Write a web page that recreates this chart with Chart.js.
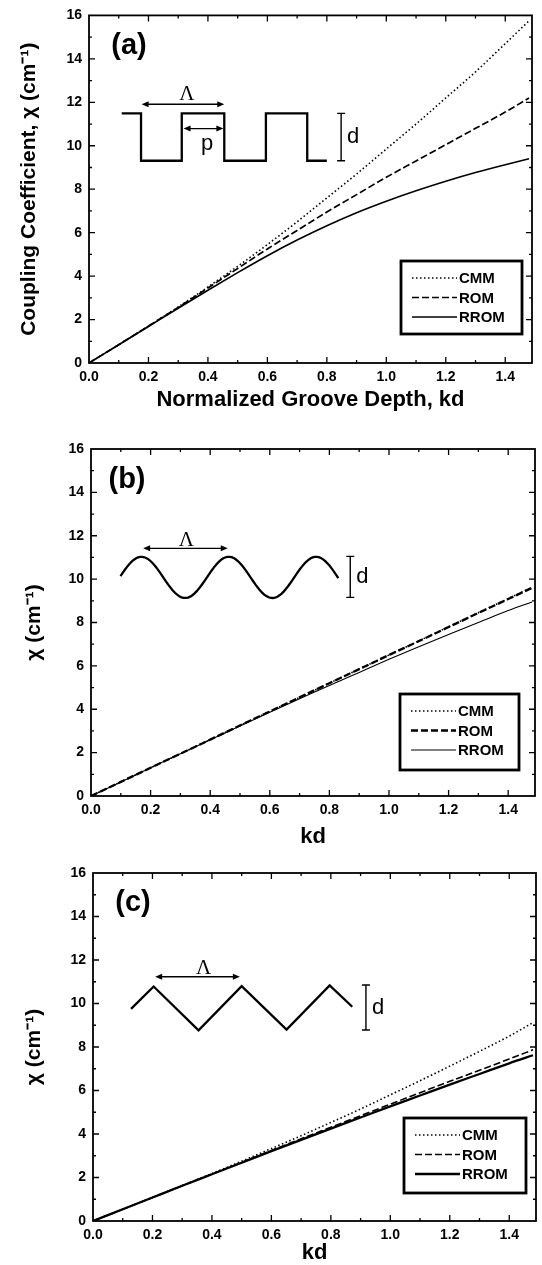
<!DOCTYPE html>
<html lang="en">
<head>
<meta charset="UTF-8" />
<title>Coupling coefficient vs. normalized groove depth</title>
<script src="https://cdn.jsdelivr.net/npm/chart.js"></script>
<style>
  body { margin: 0; background: #fff; width: 542px; height: 1265px; overflow: hidden; }
  .panel { position: absolute; left: 0; width: 542px; }
  canvas { display: block; }
</style>
</head>
<body>
<div class="panel" style="top:0"><canvas id="chartA" width="542" height="412"></canvas></div>
<div class="panel" style="top:412px"><canvas id="chartB" width="542" height="440"></canvas></div>
<div class="panel" style="top:852px"><canvas id="chartC" width="542" height="413"></canvas></div>

<script>
  // normalized groove depth kd (x values)
  const kd = [0, 0.1, 0.2, 0.3, 0.4, 0.5, 0.6, 0.7, 0.8, 0.9, 1.0, 1.1, 1.2, 1.3, 1.4, 1.48];

  // (a) rectangular grating
  const cmmA  = [0, 0.84, 1.70, 2.58, 3.50, 4.45, 5.45, 6.50, 7.60, 8.70, 9.85, 11.0, 12.2, 13.4, 14.7, 15.75];
  const romA  = [0, 0.84, 1.70, 2.56, 3.45, 4.35, 5.25, 6.10, 6.95, 7.75, 8.55, 9.30, 10.05, 10.8, 11.55, 12.2];
  const rromA = [0, 0.84, 1.68, 2.52, 3.35, 4.16, 4.94, 5.66, 6.32, 6.92, 7.45, 7.93, 8.37, 8.77, 9.13, 9.40];

  // (b) sinusoidal grating
  const cmmB  = [0, 0.65, 1.30, 1.95, 2.60, 3.25, 3.90, 4.55, 5.20, 5.85, 6.50, 7.15, 7.80, 8.45, 9.10, 9.62];
  const romB  = [0, 0.65, 1.30, 1.95, 2.60, 3.25, 3.90, 4.55, 5.20, 5.85, 6.50, 7.14, 7.79, 8.44, 9.08, 9.60];
  const rromB = [0, 0.65, 1.30, 1.95, 2.59, 3.23, 3.86, 4.48, 5.10, 5.70, 6.30, 6.88, 7.45, 8.00, 8.55, 8.95];

  // (c) triangular grating
  const cmmC  = [0, 0.54, 1.08, 1.63, 2.18, 2.75, 3.33, 3.92, 4.53, 5.15, 5.80, 6.45, 7.12, 7.80, 8.50, 9.12];
  const romC  = [0, 0.54, 1.08, 1.62, 2.16, 2.70, 3.24, 3.78, 4.31, 4.84, 5.37, 5.90, 6.42, 6.93, 7.45, 7.87];
  const rromC = [0, 0.54, 1.08, 1.62, 2.15, 2.68, 3.21, 3.73, 4.25, 4.76, 5.27, 5.77, 6.27, 6.76, 7.25, 7.62];

  const seriesNames = ["CMM", "ROM", "RROM"];
  const xTicks = [0, 0.2, 0.4, 0.6, 0.8, 1.0, 1.2, 1.4];
  const yTicks = [0, 2, 4, 6, 8, 10, 12, 14, 16];

  const FONT = '"Liberation Sans", Arial, sans-serif';
  const dashes = [[1.5, 2.5], [7, 3], []];

  // helpers for the little grating sketches
  function arrow(ctx, x1, x2, yy) {
    ctx.beginPath(); ctx.moveTo(x1 + 4, yy); ctx.lineTo(x2 - 4, yy); ctx.stroke();
    [[x1, 1], [x2, -1]].forEach(([px, d]) => {
      ctx.beginPath();
      ctx.moveTo(px, yy); ctx.lineTo(px + d * 7, yy - 3); ctx.lineTo(px + d * 7, yy + 3);
      ctx.closePath(); ctx.fill();
    });
  }
  function bracket(ctx, px, y1, y2) {
    ctx.beginPath();
    ctx.moveTo(px, y1); ctx.lineTo(px, y2);
    ctx.moveTo(px - 4, y1); ctx.lineTo(px + 4, y1);
    ctx.moveTo(px - 4, y2); ctx.lineTo(px + 4, y2);
    ctx.stroke();
  }

  // frame, inward ticks, panel letter, sketch and boxed legend
  const decor = {
    id: "decor",
    afterDatasetsDraw(chart, args, o) {
      const { ctx, chartArea: a, scales: { x, y } } = chart;
      const X = v => x.getPixelForValue(v), Y = v => y.getPixelForValue(v);
      ctx.save();
      ctx.strokeStyle = "#000"; ctx.fillStyle = "#000";

      ctx.lineWidth = 1.8;
      ctx.strokeRect(a.left, a.top, a.right - a.left, a.bottom - a.top);
      ctx.lineWidth = 1.3;
      ctx.beginPath();
      for (let i = 1; i <= 14; i++) {
        const px = X(i / 10), len = i % 2 ? 3 : 6;
        ctx.moveTo(px, a.bottom); ctx.lineTo(px, a.bottom - len);
        ctx.moveTo(px, a.top); ctx.lineTo(px, a.top + len);
      }
      for (let v = 1; v < 16; v++) {
        const py = Y(v), len = v % 2 ? 3 : 6;
        ctx.moveTo(a.left, py); ctx.lineTo(a.left + len, py);
        ctx.moveTo(a.right, py); ctx.lineTo(a.right - len, py);
      }
      ctx.stroke();

      // panel letter
      ctx.font = "bold 29px " + FONT;
      ctx.textAlign = "center"; ctx.textBaseline = "middle";
      ctx.fillText(o.letter, a.left + o.letterDx, a.top + o.letterDy);

      // grating sketch
      const s = o.sketch;
      ctx.lineWidth = 2.3;
      ctx.beginPath();
      s.path.forEach(([u, v], i) => i ? ctx.lineTo(X(u), Y(v)) : ctx.moveTo(X(u), Y(v)));
      ctx.stroke();
      ctx.lineWidth = 1.4;
      s.arrows.forEach(([u1, u2, v]) => arrow(ctx, X(u1), X(u2), Y(v)));
      bracket(ctx, X(s.d[0]), Y(s.d[1]), Y(s.d[2]));
      ctx.font = "22px " + FONT;
      ctx.textAlign = "left";
      ctx.fillText("d", X(s.d[0]) + 6, Y((s.d[1] + s.d[2]) / 2));
      ctx.textAlign = "center";
      ctx.font = "21px \"Liberation Serif\", serif";
      ctx.fillText("\u039B", X(s.lambda[0]), Y(s.lambda[1]));
      if (s.p) {
        ctx.font = "22px " + FONT;
        ctx.fillText("p", X(s.p[0]), Y(s.p[1]));
      }

      // legend box
      const L = o.legend;
      const bx = a.right - L.dr - L.w, by = a.bottom - L.db - L.h;
      ctx.fillStyle = "#fff";
      ctx.fillRect(bx, by, L.w, L.h);
      ctx.fillStyle = "#000";
      ctx.lineWidth = 2.8;
      ctx.strokeRect(bx, by, L.w, L.h);
      ctx.font = "bold 15px " + FONT;
      ctx.textAlign = "left";
      chart.data.datasets.forEach((ds, i) => {
        const ry = by + 17 + i * 19.5;
        ctx.lineWidth = ds.borderWidth;
        ctx.setLineDash(ds.borderDash);
        ctx.beginPath(); ctx.moveTo(bx + 11, ry); ctx.lineTo(bx + 56, ry); ctx.stroke();
        ctx.setLineDash([]);
        ctx.fillText(ds.label, bx + 58, ry + 1);
      });
      ctx.restore();
    }
  };

  function sineSketch() {
    const pts = [];
    for (let t = 0; t <= 100; t++) {
      const u = 0.099 + t * (0.83 - 0.099) / 100;
      pts.push([u, 10.08 + 0.95 * Math.sin(2 * Math.PI * (u - 0.096) / 0.293)]);
    }
    return pts;
  }

  function makeChart(id, series, c) {
    new Chart(document.getElementById(id), {
      type: "line",
      data: {
        datasets: series.map((vals, i) => ({
          label: seriesNames[i],
          data: kd.map((k, j) => ({ x: k, y: vals[j] })),
          borderColor: "#000",
          borderWidth: c.widths[i],
          borderDash: dashes[i],
          pointRadius: 0,
          cubicInterpolationMode: "monotone",
          fill: false
        }))
      },
      options: {
        responsive: false,
        animation: false,
        devicePixelRatio: 1,
        layout: { padding: { top: c.top, right: c.right, left: 0, bottom: 0 } },
        plugins: {
          legend: { display: false },
          tooltip: { enabled: false },
          decor: c.decor
        },
        scales: {
          x: {
            type: "linear", min: 0, max: 1.49,
            afterBuildTicks: sc => { sc.ticks = xTicks.map(v => ({ value: v })); },
            afterFit: sc => { sc.height = c.xh; },
            grid: { display: false, drawTicks: false },
            border: { display: false },
            ticks: {
              color: "#000", padding: c.xPad, maxRotation: 0, autoSkip: false,
              font: { family: FONT, size: 14, weight: "bold" },
              callback: v => v.toFixed(1)
            },
            title: {
              display: true, text: c.xTitle, color: "#000",
              font: { family: FONT, size: 22, weight: "bold" },
              padding: { top: 0, bottom: c.xTitlePad }
            }
          },
          y: {
            min: 0, max: 16,
            afterBuildTicks: sc => { sc.ticks = yTicks.map(v => ({ value: v })); },
            afterFit: sc => { sc.width = c.yw; },
            grid: { display: false, drawTicks: false },
            border: { display: false },
            ticks: {
              color: "#000", padding: 7,
              font: { family: FONT, size: 14, weight: "bold" }
            },
            title: {
              display: true, text: c.yTitle, color: "#000",
              font: { family: FONT, size: 21, weight: "bold" },
              padding: { top: c.yTitlePad, bottom: 0 }
            }
          }
        }
      },
      plugins: [decor]
    });
  }

  makeChart("chartA", [cmmA, romA, rromA], {
    top: 14, right: 10, yw: 89, xh: 49, xPad: 6, xTitlePad: -1, yTitlePad: 16.5,
    widths: [1.6, 1.7, 1.6],
    xTitle: "Normalized Groove Depth, kd",
    yTitle: "Coupling Coefficient, \u03C7 (cm\u207B\u00B9)",
    decor: {
      letter: "(a)", letterDx: 40, letterDy: 31,
      legend: { w: 121, h: 73, dr: 10, db: 29 },
      sketch: {
        path: [[0.110, 11.49], [0.175, 11.49], [0.175, 9.31], [0.312, 9.31], [0.312, 11.49],
               [0.455, 11.49], [0.455, 9.31], [0.595, 9.31], [0.595, 11.49], [0.734, 11.49],
               [0.734, 9.31], [0.800, 9.31]],
        arrows: [[0.177, 0.455, 11.91], [0.318, 0.452, 10.79]],
        d: [0.848, 11.49, 9.31],
        lambda: [0.329, 12.38],
        p: [0.397, 10.1]
      }
    }
  });

  makeChart("chartB", [cmmB, romB, rromB], {
    top: 37, right: 7, yw: 91, xh: 56, xPad: 6, xTitlePad: 2, yTitlePad: 22,
    widths: [1.6, 2.3, 1.1],
    xTitle: "kd",
    yTitle: "\u03C7 (cm\u207B\u00B9)",
    decor: {
      letter: "(b)", letterDx: 36, letterDy: 31,
      legend: { w: 119, h: 76, dr: 16, db: 26 },
      sketch: {
        path: sineSketch(),
        arrows: [[0.175, 0.459, 11.42]],
        d: [0.87, 11.05, 9.16],
        lambda: [0.32, 11.8]
      }
    }
  });

  makeChart("chartC", [cmmC, romC, rromC], {
    top: 21, right: 6, yw: 93, xh: 44, xPad: 6, xTitlePad: -1, yTitlePad: 22,
    widths: [1.6, 1.6, 2.3],
    xTitle: "kd",
    yTitle: "\u03C7 (cm\u207B\u00B9)",
    decor: {
      letter: "(c)", letterDx: 40, letterDy: 30,
      legend: { w: 122, h: 75, dr: 10, db: 28 },
      sketch: {
        path: [[0.128, 9.75], [0.204, 10.78], [0.355, 8.77], [0.500, 10.80], [0.651, 8.80],
               [0.796, 10.83], [0.872, 9.85]],
        arrows: [[0.209, 0.494, 11.23]],
        d: [0.918, 10.85, 8.78],
        lambda: [0.372, 11.62]
      }
    }
  });
</script>
</body>
</html>
